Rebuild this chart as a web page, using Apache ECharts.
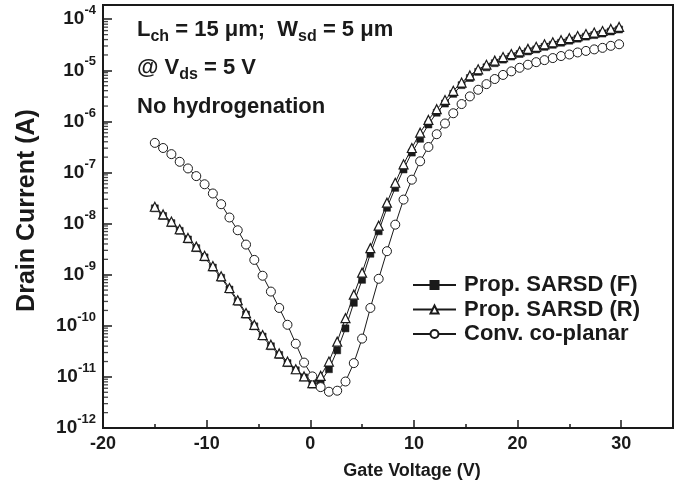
<!DOCTYPE html>
<html>
<head>
<meta charset="utf-8">
<script src="https://cdn.jsdelivr.net/npm/echarts@6/dist/echarts.min.js"></script>
<style>
  html, body { margin: 0; padding: 0; background: #fff; }
  #chart { width: 689px; height: 495px; }
</style>
</head>
<body>
<div id="chart"></div>
<script>
// Transfer curves, log10 of drain current
var gateVoltage = [
  -15.0, -14.2, -13.4, -12.6, -11.8, -11.0, -10.2, -9.4, -8.6, -7.8,
  -7.0, -6.2, -5.4, -4.6, -3.8, -3.0, -2.2, -1.4, -0.6, 0.2,
  1.0, 1.8, 2.6, 3.4, 4.2, 5.0, 5.8, 6.6, 7.4, 8.2,
  9.0, 9.8, 10.6, 11.4, 12.2, 13.0, 13.8, 14.6, 15.4, 16.2,
  17.0, 17.8, 18.6, 19.4, 20.2, 21.0, 21.8, 22.6, 23.4, 24.2,
  25.0, 25.8, 26.6, 27.4, 28.2, 29.0, 29.8
];
// Prop. SARSD (F)
var logIdF = [
  -7.70, -7.85, -7.99, -8.14, -8.31, -8.48, -8.66, -8.86, -9.06, -9.29,
  -9.53, -9.78, -10.01, -10.21, -10.40, -10.57, -10.73, -10.87, -11.01, -11.15,
  -11.10, -10.85, -10.48, -10.05, -9.55, -9.10, -8.59, -8.15, -7.69, -7.30,
  -6.94, -6.61, -6.34, -6.06, -5.83, -5.65, -5.46, -5.29, -5.15, -5.03,
  -4.94, -4.86, -4.79, -4.73, -4.68, -4.63, -4.59, -4.54, -4.50, -4.46,
  -4.42, -4.38, -4.34, -4.31, -4.28, -4.24, -4.20
];
// Prop. SARSD (R)
var logIdR = [
  -7.67, -7.82, -7.96, -8.11, -8.28, -8.45, -8.63, -8.83, -9.03, -9.26,
  -9.50, -9.75, -9.98, -10.18, -10.37, -10.54, -10.70, -10.85, -10.99, -11.12,
  -10.98, -10.70, -10.31, -9.85, -9.39, -8.96, -8.48, -8.04, -7.59, -7.20,
  -6.84, -6.52, -6.22, -5.97, -5.76, -5.58, -5.40, -5.24, -5.10, -4.98,
  -4.89, -4.81, -4.74, -4.68, -4.63, -4.58, -4.54, -4.49, -4.45, -4.41,
  -4.37, -4.33, -4.29, -4.26, -4.23, -4.19, -4.15
];
// Conv. co-planar
var logIdC = [
  -6.42, -6.52, -6.64, -6.79, -6.92, -7.07, -7.23, -7.41, -7.62, -7.88,
  -8.13, -8.41, -8.71, -9.02, -9.33, -9.65, -9.98, -10.35, -10.72, -10.99,
  -11.20, -11.29, -11.27, -11.09, -10.73, -10.25, -9.65, -9.08, -8.54, -8.02,
  -7.53, -7.14, -6.78, -6.50, -6.25, -6.04, -5.84, -5.66, -5.51, -5.38,
  -5.27, -5.17, -5.09, -5.02, -4.95, -4.89, -4.84, -4.80, -4.76, -4.72,
  -4.69, -4.65, -4.62, -4.59, -4.56, -4.52, -4.49
];
var seriesNames = ['Prop. SARSD (F)', 'Prop. SARSD (R)', 'Conv. co-planar'];
var xTicks = [-20, -10, 0, 10, 20, 30];
var decades = [-12, -11, -10, -9, -8, -7, -6, -5, -4];
var minorMantissas = [2, 3, 4, 5, 6, 7, 8, 9];

var ink = '#1a1a1a';
var font = "'Liberation Sans', Arial, sans-serif";

function pairs(logs) {
  return logs.map(function(e, i) { return [gateVoltage[i], Math.pow(10, e)]; });
}

// minor log ticks on the left axis (2..9 of each decade)
var minorTickData = [];
decades.slice(0, -1).forEach(function(d) {
  minorMantissas.forEach(function(m) { minorTickData.push([-20, m * Math.pow(10, d)]); });
});

var annRich = {
  m: { fontSize: 22, fontWeight: 'bold', fontFamily: font, lineHeight: 30, fill: ink },
  s: { fontSize: 16, fontWeight: 'bold', fontFamily: font, lineHeight: 16, verticalAlign: 'bottom', fill: ink }
};

var chart = echarts.init(document.getElementById('chart'));
chart.setOption({
  animation: false,
  backgroundColor: '#fff',
  grid: {
    left: 103, right: 16, top: 5, bottom: 67,
    show: true, borderColor: ink, borderWidth: 2, backgroundColor: 'transparent'
  },
  legend: {
    orient: 'vertical',
    left: 412, top: 274, padding: 0,
    itemWidth: 43, itemHeight: 10, itemGap: 2.5,
    data: seriesNames,
    textStyle: { color: ink, fontSize: 22, fontWeight: 'bold', fontFamily: font, lineHeight: 22, padding: [0, 0, 0, 3] }
  },
  graphic: [
    {
      type: 'text', left: 137, top: 19,
      style: { text: '{m|L}{s|ch}{m| = 15 μm;  W}{s|sd}{m| = 5 μm}', fill: ink, rich: annRich }
    },
    {
      type: 'text', left: 137, top: 57,
      style: { text: '{m|@ V}{s|ds}{m| = 5 V}', fill: ink, rich: annRich }
    },
    {
      type: 'text', left: 137, top: 96,
      style: { text: 'No hydrogenation', fill: ink, fontSize: 22, fontWeight: 'bold', fontFamily: font }
    },
    {
      // x axis title sits a little right of the plot centre in the original
      type: 'text', x: 412, y: 471,
      style: {
        text: 'Gate Voltage (V)', fill: ink, fontSize: 18, fontWeight: 'bold', fontFamily: font,
        align: 'center', verticalAlign: 'middle'
      }
    }
  ],
  xAxis: [
    {
      type: 'value', position: 'bottom', min: -20, max: 35, interval: 5,
      axisLine: { show: true, onZero: false, lineStyle: { color: ink, width: 2 } },
      axisTick: { show: true, inside: true, length: 4, lineStyle: { color: ink, width: 1.5 } },
      axisLabel: {
        margin: 7, color: ink, fontSize: 18, fontWeight: 'bold', fontFamily: font,
        formatter: function(v) { return xTicks.indexOf(v) >= 0 ? String(v) : ''; }
      },
      splitLine: { show: false }
    },
    {
      type: 'value', position: 'bottom', min: -20, max: 35, interval: 10,
      axisLine: { show: false, onZero: false },
      axisTick: { show: true, inside: true, length: 8, lineStyle: { color: ink, width: 1.5 } },
      axisLabel: { show: false },
      splitLine: { show: false }
    }
  ],
  yAxis: {
    type: 'log', logBase: 10, min: 1e-12, max: 1.9e-4, splitNumber: 8,
    name: 'Drain Current (A)', nameLocation: 'middle', nameGap: 63, nameRotate: 90,
    nameTextStyle: { color: ink, fontSize: 25, fontWeight: 'bold', fontFamily: font, padding: [0, 0, 0, 12] },
    axisLine: { show: true, onZero: false, lineStyle: { color: ink, width: 2 } },
    axisTick: { show: true, inside: true, length: 9, lineStyle: { color: ink, width: 1.5 } },
    axisLabel: {
      margin: 7,
      formatter: function(v) {
        var l = Math.log10(v), e = Math.round(l);
        if (Math.abs(l - e) > 0.01) return '';
        return '{a|10}{b|' + e + '}';
      },
      rich: {
        a: { fontSize: 19, fontWeight: 'bold', fontFamily: font, color: ink, lineHeight: 30 },
        b: { fontSize: 13, fontWeight: 'bold', fontFamily: font, color: ink, lineHeight: 10, verticalAlign: 'top' }
      }
    },
    splitLine: { show: false }
  },
  series: [
    {
      name: 'minor', type: 'scatter', data: minorTickData, silent: true,
      symbol: 'rect', symbolSize: [5, 1.3], symbolOffset: [2.5, 0],
      itemStyle: { color: ink }, clip: false, z: 5
    },
    {
      name: seriesNames[0], type: 'line', data: pairs(logIdF),
      symbol: 'rect', symbolSize: 7, showAllSymbol: true,
      lineStyle: { color: ink, width: 1 },
      itemStyle: { color: ink, borderColor: ink, borderWidth: 0.5 }, z: 2
    },
    {
      name: seriesNames[1], type: 'line', data: pairs(logIdR),
      symbol: 'triangle', symbolSize: 9, showAllSymbol: true,
      lineStyle: { color: ink, width: 1 },
      itemStyle: { color: '#fff', borderColor: ink, borderWidth: 1.2 }, z: 3
    },
    {
      name: seriesNames[2], type: 'line', data: pairs(logIdC),
      symbol: 'circle', symbolSize: 9, showAllSymbol: true,
      lineStyle: { color: ink, width: 1 },
      itemStyle: { color: '#fff', borderColor: ink, borderWidth: 1 }, z: 4
    }
  ]
});
</script>
</body>
</html>
